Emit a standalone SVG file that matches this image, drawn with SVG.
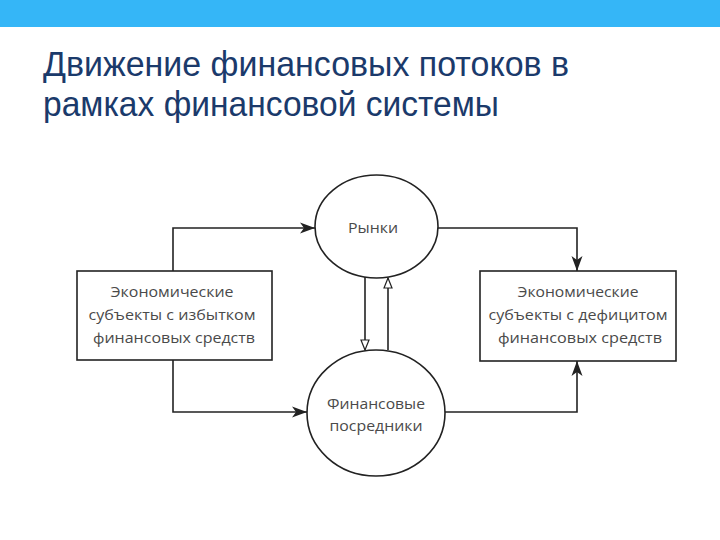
<svg xmlns="http://www.w3.org/2000/svg" width="720" height="540" viewBox="0 0 720 540">
  <style>
    .title { font-family: "Liberation Sans", Arial, sans-serif; font-size: 35px; fill: #1b3a6b; }
    .lbl { font-family: "Open Sans", "Noto Sans", sans-serif; font-size: 15px; fill: #4a4a4a; text-anchor: middle; }
    .node { fill: #ffffff; stroke: #222222; stroke-width: 1.6; }
    .conn { fill: none; stroke: #222222; stroke-width: 1.6; }
  </style>
  <defs>
    <marker id="arrowFilled" markerUnits="userSpaceOnUse" markerWidth="16" markerHeight="12" refX="15" refY="6" orient="auto">
      <path d="M0,0.5 L15,6 L0,11.5 L4,6 Z" fill="#222222"/>
    </marker>
    <marker id="arrowOpen" markerUnits="userSpaceOnUse" markerWidth="12" markerHeight="10" refX="11" refY="5" orient="auto">
      <path d="M1,1 L11,5 L1,9 Z" fill="#ffffff" stroke="#222222" stroke-width="1.2"/>
    </marker>
  </defs>

  <rect x="0" y="0" width="720" height="27" fill="#35b6f7"/>

  <text class="title" x="43" y="76" textLength="526" lengthAdjust="spacingAndGlyphs">Движение финансовых потоков в</text>
  <text class="title" x="43" y="116" textLength="456" lengthAdjust="spacingAndGlyphs">рамках финансовой системы</text>

  <g id="connectors">
    <polyline class="conn" points="173,271 173,228 315,228" marker-end="url(#arrowFilled)"/>
    <polyline class="conn" points="438,228 577,228 577,271" marker-end="url(#arrowFilled)"/>
    <polyline class="conn" points="173,360 173,412 307,412" marker-end="url(#arrowFilled)"/>
    <polyline class="conn" points="445,412 577,412 577,361" marker-end="url(#arrowFilled)"/>
    <line class="conn" x1="365" y1="277" x2="365" y2="350" marker-end="url(#arrowOpen)"/>
    <line class="conn" x1="388" y1="350" x2="388" y2="278" marker-end="url(#arrowOpen)"/>
  </g>

  <g id="markets">
    <ellipse class="node" cx="376.5" cy="226.5" rx="61.5" ry="51.5"/>
    <text class="lbl" x="373" y="233" textLength="50" lengthAdjust="spacingAndGlyphs">Рынки</text>
  </g>

  <g id="intermediaries">
    <ellipse class="node" cx="376" cy="413" rx="69" ry="63"/>
    <text class="lbl" x="376" y="409" textLength="98" lengthAdjust="spacingAndGlyphs">Финансовые</text>
    <text class="lbl" x="376" y="431" textLength="93" lengthAdjust="spacingAndGlyphs">посредники</text>
  </g>

  <g id="surplus">
    <rect class="node" x="77" y="271" width="195" height="89"/>
    <text class="lbl" x="172" y="297" textLength="123" lengthAdjust="spacingAndGlyphs">Экономические</text>
    <text class="lbl" x="172" y="320" textLength="167" lengthAdjust="spacingAndGlyphs">субъекты с избытком</text>
    <text class="lbl" x="174" y="343" textLength="162" lengthAdjust="spacingAndGlyphs">финансовых средств</text>
  </g>

  <g id="deficit">
    <rect class="node" x="480" y="271" width="196" height="90"/>
    <text class="lbl" x="578" y="297" textLength="121" lengthAdjust="spacingAndGlyphs">Экономические</text>
    <text class="lbl" x="578" y="320" textLength="179" lengthAdjust="spacingAndGlyphs">субъекты с дефицитом</text>
    <text class="lbl" x="580" y="343" textLength="164" lengthAdjust="spacingAndGlyphs">финансовых средств</text>
  </g>
</svg>
